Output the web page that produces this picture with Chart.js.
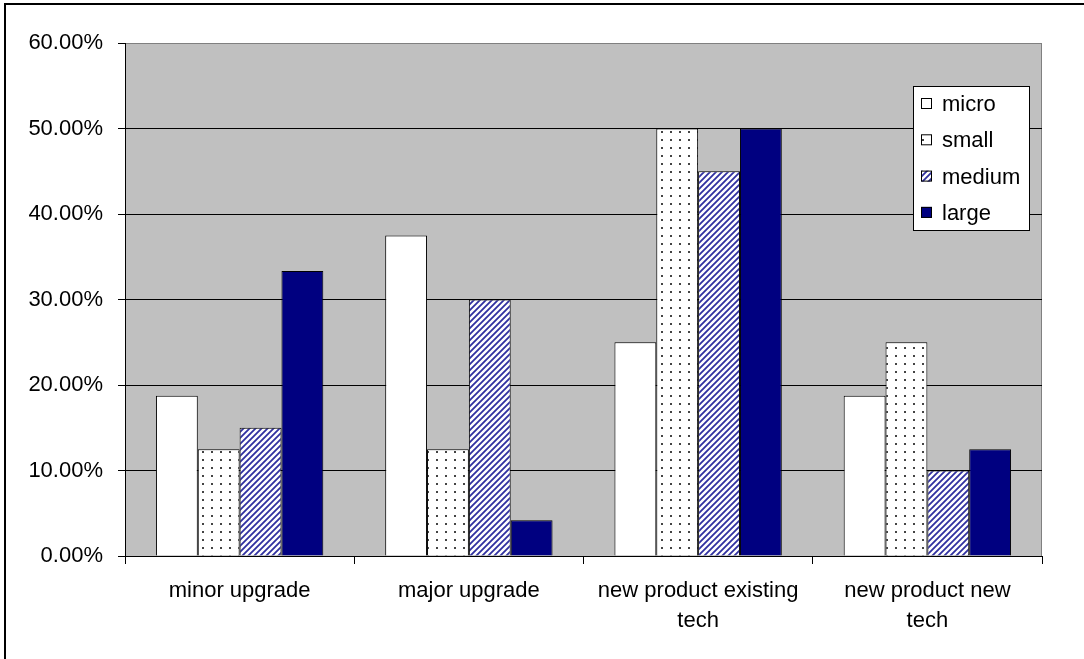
<!DOCTYPE html>
<html>
<head>
<meta charset="utf-8">
<script src="https://cdn.jsdelivr.net/npm/chart.js@4/dist/chart.umd.min.js"></script>
<style>
  html, body { margin: 0; padding: 0; background: #fff; }
  #wrap { position: relative; width: 1084px; height: 659px; }
</style>
</head>
<body>
<div id="wrap"><canvas id="chart" width="1084" height="659"></canvas></div>
<script>
// categories and share of firms (percent) per size class
const categories = [
  'minor upgrade',
  'major upgrade',
  ['new product existing', 'tech'],
  ['new product new', 'tech']
];
const seriesNames = ['micro', 'small', 'medium', 'large'];
const micro  = [18.75, 37.5, 25, 18.75];
const small  = [12.5, 12.5, 50, 25];
const medium = [15, 30, 45, 10];
const large  = [33.33, 4.17, 50, 12.5];
const yTicks = [0, 10, 20, 30, 40, 50, 60];

// fill patterns for the bars
function dotPattern() {
  let c = document.createElement('canvas');
  c.width = 9; c.height = 8;
  let g = c.getContext('2d');
  g.fillStyle = '#fff';
  g.fillRect(0, 0, 9, 8);
  g.fillStyle = '#444';
  g.fillRect(4, 3, 2, 2);
  return g.createPattern(c, 'repeat');
}

function stripePattern() {
  let c = document.createElement('canvas');
  c.width = 6; c.height = 6;
  let g = c.getContext('2d');
  g.fillStyle = '#fff';
  g.fillRect(0, 0, 6, 6);
  g.strokeStyle = '#3030a0';
  g.lineWidth = 1.8;
  g.beginPath();
  g.moveTo(-1, 7); g.lineTo(7, -1);
  g.moveTo(-4, 4); g.lineTo(4, -4);
  g.moveTo(2, 10); g.lineTo(10, 2);
  g.stroke();
  return g.createPattern(c, 'repeat');
}

const fills = ['#ffffff', dotPattern(), stripePattern(), '#000080'];
const values = [micro, small, medium, large];

// grey plot area, outer frame
const backdrop = {
  id: 'backdrop',
  beforeDraw(chart) {
    const { ctx, chartArea: a } = chart;
    ctx.save();
    ctx.fillStyle = '#c0c0c0';
    ctx.fillRect(a.left, a.top, a.right - a.left, a.bottom - a.top);
    ctx.strokeStyle = '#808080';
    ctx.lineWidth = 1;
    ctx.beginPath();
    ctx.moveTo(a.left, a.top + 0.5);
    ctx.lineTo(a.right - 0.5, a.top + 0.5);
    ctx.lineTo(a.right - 0.5, a.bottom);
    ctx.stroke();
    ctx.fillStyle = '#000';
    ctx.fillRect(4, 3, 1080, 2);
    ctx.fillRect(4, 3, 2, 656);
    ctx.restore();
  }
};

// boxed legend inside the plot
const boxLegend = {
  id: 'boxLegend',
  afterDraw(chart) {
    const ctx = chart.ctx;
    const x = 913, y = 86, w = 116, h = 144;
    ctx.save();
    ctx.fillStyle = '#fff';
    ctx.fillRect(x, y, w, h);
    ctx.strokeStyle = '#000';
    ctx.lineWidth = 1;
    ctx.strokeRect(x + 0.5, y + 0.5, w, h);
    ctx.font = '22px "Liberation Sans", Arial, sans-serif';
    ctx.textBaseline = 'middle';
    chart.data.datasets.forEach((ds, i) => {
      const cy = 104 + i * 36.3;
      ctx.fillStyle = ds.backgroundColor;
      ctx.fillRect(921, cy - 6, 11, 11);
      ctx.strokeRect(921.5, cy - 5.5, 10, 10);
      ctx.fillStyle = '#000';
      ctx.fillText(ds.label, 942, cy + 1);
    });
    ctx.restore();
  }
};

Chart.defaults.font.family = '"Liberation Sans", Arial, sans-serif';
Chart.defaults.font.size = 22;
Chart.defaults.color = '#000';

new Chart(document.getElementById('chart'), {
  type: 'bar',
  data: {
    labels: categories,
    datasets: seriesNames.map((name, i) => ({
      label: name,
      data: values[i],
      backgroundColor: fills[i],
      borderColor: '#000',
      borderWidth: 1,
      categoryPercentage: 0.73,
      barPercentage: 1
    }))
  },
  options: {
    responsive: false,
    animation: false,
    devicePixelRatio: 1,
    layout: { padding: { top: 43, right: 42, left: 0, bottom: 0 } },
    plugins: { legend: { display: false }, tooltip: { enabled: false } },
    scales: {
      x: {
        afterFit(s) { s.height = 103; },
        border: { color: '#000' },
        grid: { drawOnChartArea: false, tickLength: 8, color: '#000', offset: true },
        ticks: { padding: 12, maxRotation: 0, autoSkip: false, font: { size: 22, lineHeight: 1.36 } }
      },
      y: {
        min: 0,
        max: 60,
        afterFit(s) { s.width = 125; },
        afterBuildTicks(s) { s.ticks = yTicks.map(v => ({ value: v })); },
        border: { color: '#000' },
        grid: {
          color: c => (c.tick && c.tick.value === 60) ? '#808080' : '#000',
          tickColor: '#000',
          tickLength: 7
        },
        ticks: { padding: 15, callback: v => v.toFixed(2) + '%' }
      }
    }
  },
  plugins: [backdrop, boxLegend]
});
</script>
</body>
</html>
